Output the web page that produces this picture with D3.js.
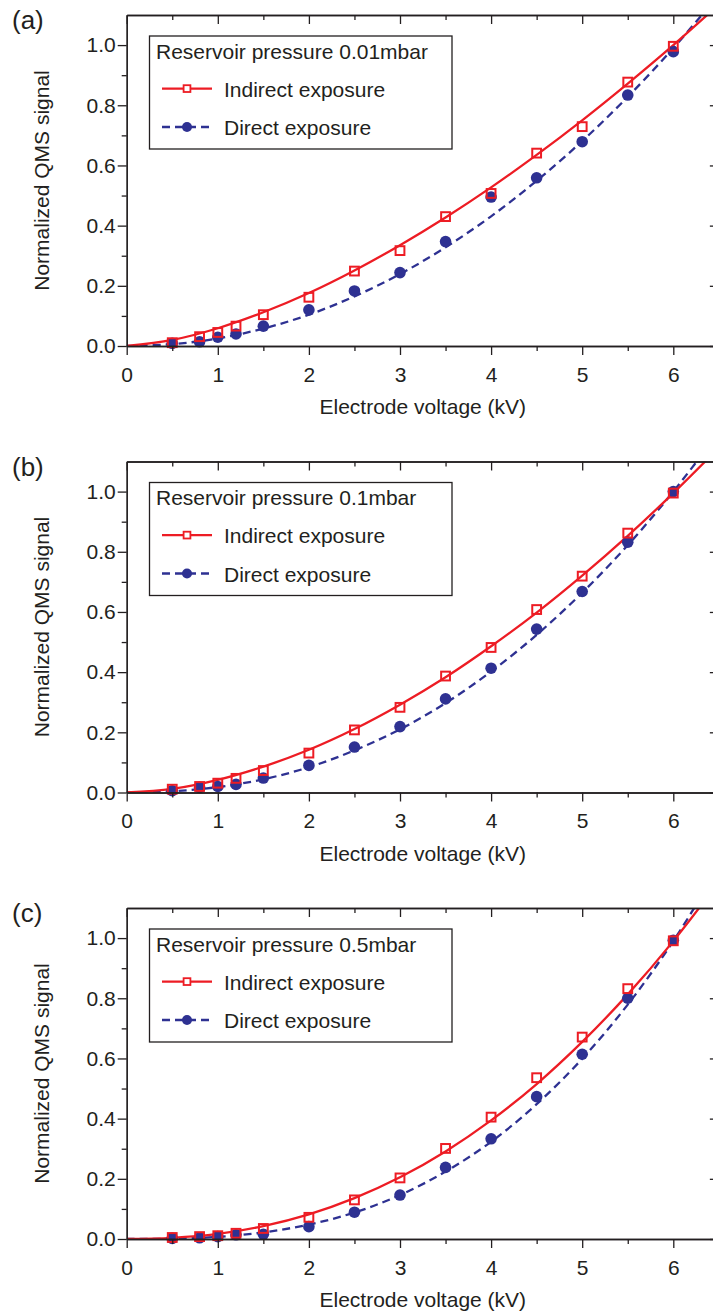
<!DOCTYPE html>
<html>
<head>
<meta charset="utf-8">
<script src="https://cdn.jsdelivr.net/npm/d3@7"></script>
<style>
  html, body { margin: 0; padding: 0; background: #ffffff; }
  svg { display: block; }
  text { font-family: "Liberation Sans", Arial, Helvetica, sans-serif; fill: #231f20; }
</style>
</head>
<body>
<svg id="chart" width="713" height="1314"></svg>
<script>
// Electrode voltage (kV) at which the QMS signal was sampled
const voltage = [0.5, 0.8, 1.0, 1.2, 1.5, 2.0, 2.5, 3.0, 3.5, 4.0, 4.5, 5.0, 5.5, 6.0];

// Normalized QMS signal, reservoir pressure 0.01 mbar
const indirectA = [0.011, 0.031, 0.045, 0.066, 0.104, 0.162, 0.249, 0.317, 0.430, 0.507, 0.641, 0.729, 0.877, 0.996];
const directA   = [0.009, 0.014, 0.029, 0.040, 0.066, 0.120, 0.183, 0.244, 0.347, 0.495, 0.559, 0.679, 0.834, 0.978];
// reservoir pressure 0.1 mbar
const indirectB = [0.011, 0.020, 0.031, 0.047, 0.073, 0.131, 0.208, 0.283, 0.387, 0.482, 0.608, 0.719, 0.862, 0.995];
const directB   = [0.006, 0.017, 0.020, 0.027, 0.048, 0.090, 0.151, 0.219, 0.311, 0.413, 0.543, 0.668, 0.832, 1.000];
// reservoir pressure 0.5 mbar
const indirectC = [0.005, 0.008, 0.011, 0.019, 0.035, 0.072, 0.130, 0.203, 0.301, 0.405, 0.536, 0.671, 0.832, 0.991];
const directC   = [0.002, 0.004, 0.008, 0.014, 0.016, 0.041, 0.089, 0.146, 0.238, 0.333, 0.473, 0.614, 0.800, 0.993];

// Fitted curves, sampled along the voltage axis
const fitVoltage = [0, 0.5, 1.0, 1.5, 2.0, 2.5, 3.0, 3.5, 4.0, 4.5, 5.0, 5.5, 6.0, 6.5];
const fitIndirectA = [0, 0.020, 0.059, 0.112, 0.176, 0.251, 0.335, 0.427, 0.527, 0.635, 0.750, 0.872, 1.000, 1.135];
const fitDirectA   = [0, 0.006, 0.025, 0.058, 0.104, 0.165, 0.239, 0.328, 0.431, 0.549, 0.681, 0.828, 0.990, 1.167];
const fitIndirectB = [0, 0.012, 0.042, 0.086, 0.142, 0.211, 0.292, 0.383, 0.486, 0.598, 0.721, 0.853, 0.995, 1.146];
const fitDirectB   = [0, 0.004, 0.018, 0.044, 0.084, 0.140, 0.210, 0.297, 0.402, 0.524, 0.664, 0.822, 1.000, 1.197];
const fitIndirectC = [0, 0.004, 0.017, 0.043, 0.082, 0.136, 0.205, 0.291, 0.394, 0.515, 0.655, 0.813, 0.990, 1.187];
const fitDirectC   = [0, 0.001, 0.007, 0.022, 0.048, 0.088, 0.146, 0.224, 0.323, 0.448, 0.599, 0.779, 0.990, 1.235];

const panelLabels = ["(a)", "(b)", "(c)"];
const legendTitles = ["Reservoir pressure 0.01mbar", "Reservoir pressure 0.1mbar", "Reservoir pressure 0.5mbar"];
const seriesNames = ["Indirect exposure", "Direct exposure"];
const xTickValues = [0, 1, 2, 3, 4, 5, 6];
const xMinorValues = [0.5, 1.5, 2.5, 3.5, 4.5, 5.5];
const yTickValues = [0.0, 0.2, 0.4, 0.6, 0.8, 1.0];
const yMinorValues = [0.1, 0.3, 0.5, 0.7, 0.9];
const xTitle = "Electrode voltage (kV)";
const yTitle = "Normalized QMS signal";

const panels = [
  { label: panelLabels[0], title: legendTitles[0], ind: indirectA, dir: directA, fitInd: fitIndirectA, fitDir: fitDirectA },
  { label: panelLabels[1], title: legendTitles[1], ind: indirectB, dir: directB, fitInd: fitIndirectB, fitDir: fitDirectB },
  { label: panelLabels[2], title: legendTitles[2], ind: indirectC, dir: directC, fitInd: fitIndirectC, fitDir: fitDirectC }
];

const RED = "#ed1c24";
const BLUE = "#2e3192";
const INK = "#231f20";
const FONT = 21;
const DASH = "8,5";

const svg = d3.select("#chart");
const left = 126.7;
const plotW = 6.5 * 91.1;
const plotH = 331;
const tops = [15, 461.5, 908];

const x = d3.scaleLinear().domain([0, 6.5]).range([0, plotW]);
const y = d3.scaleLinear().domain([0, 1.1]).range([plotH, 0]);

const line = d3.line()
  .x(d => x(d[0]))
  .y(d => y(d[1]))
  .curve(d3.curveCatmullRom.alpha(0.5));

function styleAxis(g) {
  g.select(".domain").attr("stroke", INK).attr("stroke-width", 1.3);
  g.selectAll(".tick line").attr("stroke", INK).attr("stroke-width", 1.3);
  g.selectAll(".tick text")
    .attr("fill", INK)
    .style("font-size", FONT + "px")
    .style("font-family", "'Liberation Sans', Arial, sans-serif");
}

panels.forEach((p, i) => {
  const g = svg.append("g").attr("transform", `translate(${left},${tops[i]})`);

  const clipId = "clip" + i;
  g.append("clipPath").attr("id", clipId)
    .append("rect").attr("x", 0).attr("y", 0).attr("width", plotW).attr("height", plotH);

  // fitted curves
  const plot = g.append("g").attr("clip-path", `url(#${clipId})`);
  plot.append("path")
    .datum(fitVoltage.map((v, k) => [v, p.fitDir[k]]))
    .attr("d", line)
    .attr("fill", "none")
    .attr("stroke", BLUE)
    .attr("stroke-width", 2.3)
    .attr("stroke-dasharray", DASH);
  plot.append("path")
    .datum(fitVoltage.map((v, k) => [v, p.fitInd[k]]))
    .attr("d", line)
    .attr("fill", "none")
    .attr("stroke", RED)
    .attr("stroke-width", 2.3);

  // measured points
  g.append("g").selectAll("circle")
    .data(voltage.map((v, k) => [v, p.dir[k]]))
    .join("circle")
    .attr("cx", d => x(d[0]))
    .attr("cy", d => y(d[1]))
    .attr("r", 5.8)
    .attr("fill", BLUE);
  const sq = 8.8;
  g.append("g").selectAll("rect")
    .data(voltage.map((v, k) => [v, p.ind[k]]))
    .join("rect")
    .attr("x", d => x(d[0]) - sq / 2)
    .attr("y", d => y(d[1]) - sq / 2)
    .attr("width", sq)
    .attr("height", sq)
    .attr("fill", "none")
    .attr("stroke", RED)
    .attr("stroke-width", 2);

  // axes: bottom and left carry labels with outward ticks; top and right have inward ticks
  const bottom = g.append("g").attr("transform", `translate(0,${plotH})`)
    .call(d3.axisBottom(x).tickValues(xTickValues).tickFormat(d3.format("d")).tickSize(9).tickPadding(12).tickSizeOuter(0));
  styleAxis(bottom);
  const bottomMinor = g.append("g").attr("transform", `translate(0,${plotH})`)
    .call(d3.axisBottom(x).tickValues(xMinorValues).tickFormat("").tickSize(5).tickSizeOuter(0));
  styleAxis(bottomMinor);

  const leftAx = g.append("g")
    .call(d3.axisLeft(y).tickValues(yTickValues).tickFormat(d3.format(".1f")).tickSize(9).tickPadding(2).tickSizeOuter(0));
  styleAxis(leftAx);
  const leftMinor = g.append("g")
    .call(d3.axisLeft(y).tickValues(yMinorValues).tickFormat("").tickSize(5).tickSizeOuter(0));
  styleAxis(leftMinor);

  const topAx = g.append("g")
    .call(d3.axisTop(x).tickValues(xTickValues).tickFormat("").tickSize(-9).tickSizeOuter(0));
  styleAxis(topAx);
  const topMinor = g.append("g")
    .call(d3.axisTop(x).tickValues(xMinorValues).tickFormat("").tickSize(-5).tickSizeOuter(0));
  styleAxis(topMinor);

  const rightAx = g.append("g").attr("transform", `translate(${plotW},0)`)
    .call(d3.axisRight(y).tickValues(yTickValues).tickFormat("").tickSize(-9).tickSizeOuter(0));
  styleAxis(rightAx);
  const rightMinor = g.append("g").attr("transform", `translate(${plotW},0)`)
    .call(d3.axisRight(y).tickValues(yMinorValues).tickFormat("").tickSize(-5).tickSizeOuter(0));
  styleAxis(rightMinor);

  // axis titles
  g.append("text")
    .attr("x", plotW / 2)
    .attr("y", plotH + 68)
    .attr("text-anchor", "middle")
    .style("font-size", FONT + "px")
    .text(xTitle);
  g.append("text")
    .attr("transform", `translate(${49 - left},${plotH / 2}) rotate(-90)`)
    .attr("text-anchor", "middle")
    .style("font-size", FONT + "px")
    .text(yTitle);

  // panel label
  svg.append("text")
    .attr("x", 12)
    .attr("y", tops[i] + 14)
    .style("font-size", "26px")
    .text(p.label);

  // legend
  const lg = g.append("g").attr("transform", `translate(${149.5 - left},21)`);
  lg.append("rect")
    .attr("width", 302.5).attr("height", 113)
    .attr("fill", "#ffffff").attr("stroke", INK).attr("stroke-width", 1.3);
  lg.append("text").attr("x", 6.5).attr("y", 22.6).style("font-size", FONT + "px").text(p.title);

  const rows = [
    { name: seriesNames[0], color: RED, dash: null, mark: "square", yLine: 52.6 },
    { name: seriesNames[1], color: BLUE, dash: DASH, mark: "circle", yLine: 91 }
  ];
  rows.forEach(r => {
    lg.append("line")
      .attr("x1", 12.5).attr("x2", 62.5)
      .attr("y1", r.yLine).attr("y2", r.yLine)
      .attr("stroke", r.color).attr("stroke-width", 2.3)
      .attr("stroke-dasharray", r.dash);
    if (r.mark === "square") {
      lg.append("rect")
        .attr("x", 37.5 - 3.4).attr("y", r.yLine - 3.4)
        .attr("width", 6.8).attr("height", 6.8)
        .attr("fill", "#ffffff").attr("stroke", r.color).attr("stroke-width", 1.8);
    } else {
      lg.append("circle").attr("cx", 37.5).attr("cy", r.yLine).attr("r", 5).attr("fill", r.color);
    }
    lg.append("text").attr("x", 74.5).attr("y", r.yLine + 8).style("font-size", FONT + "px").text(r.name);
  });
});
</script>
</body>
</html>
